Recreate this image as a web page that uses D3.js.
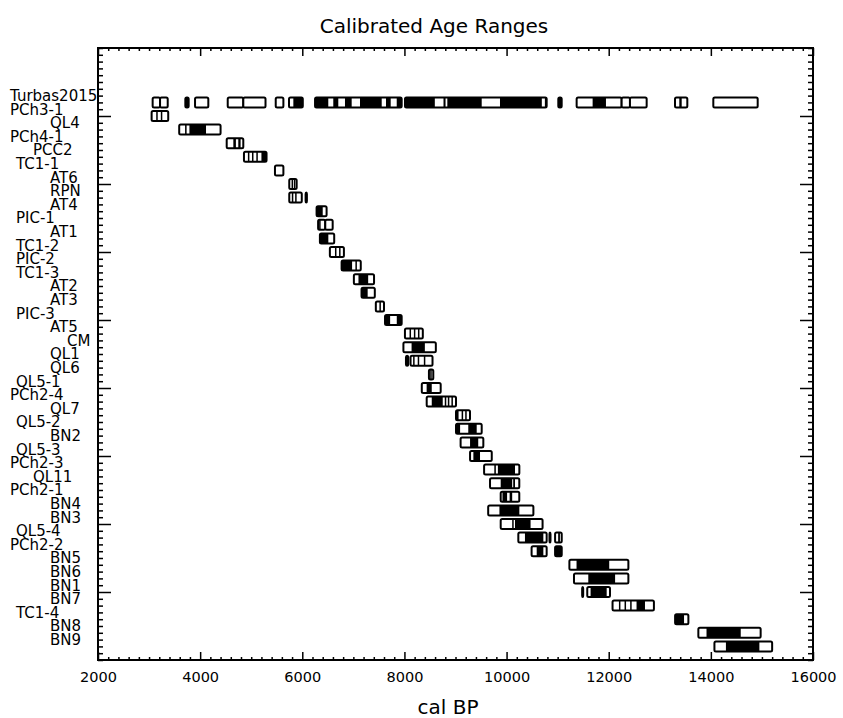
<!DOCTYPE html>
<html>
<head>
<meta charset="utf-8">
<script src="https://cdn.jsdelivr.net/npm/d3@7/dist/d3.min.js"></script>
<style>
  html, body { margin: 0; padding: 0; background: #fff; }
  text { font-family: "DejaVu Sans", sans-serif; fill: #000; }
</style>
</head>
<body>
<div id="chart"></div>
<script>
// sample names, top to bottom
const samples = ["Turbas2015", "PCh3-1", "QL4", "PCh4-1", "PCC2", "TC1-1", "AT6", "RPN", "AT4",
  "PIC-1", "AT1", "TC1-2", "PIC-2", "TC1-3", "AT2", "AT3", "PIC-3", "AT5", "CM", "QL1", "QL6",
  "QL5-1", "PCh2-4", "QL7", "QL5-2", "BN2", "QL5-3", "PCh2-3", "QL11", "PCh2-1", "BN4", "BN3",
  "QL5-4", "PCh2-2", "BN5", "BN6", "BN1", "BN7", "TC1-4", "BN8", "BN9"];

// 95.4% ranges (open boxes), cal BP
const range95 = [
  [[3070,3215],[3215,3365],[3710,3775],[3900,4160],[4540,4845],[4845,5280],[5480,5630],[5740,6010],
   [6250,7946],[8011,10785],[11013,11079],[11372,12253],[12253,12416],[12416,12743],[13298,13539],[14048,14917]],
  [[3050,3375]],
  [[3590,4400]],
  [[4520,4845]],
  [[4858,5300]],
  [[5465,5630]],
  [[5745,5890]],
  [[5745,5990],[6065,6090]],
  [[6280,6476]],
  [[6310,6450],[6450,6595]],
  [[6345,6625]],
  [[6540,6815]],
  [[6770,7145]],
  [[7010,7405]],
  [[7160,7420]],
  [[7440,7600]],
  [[7620,7946]],
  [[8010,8360]],
  [[7980,8615]],
  [[8030,8075],[8120,8550]],
  [[8480,8565]],
  [[8340,8710]],
  [[8436,9010]],
  [[9010,9284]],
  [[9010,9513]],
  [[9100,9545]],
  [[9285,9710]],
  [[9560,10250]],
  [[9676,10249]],
  [[9885,10249]],
  [[9640,10525]],
  [[9885,10705]],
  [[10230,10785],[10840,10860],[10950,11080]],
  [[10490,10785],[10950,11080]],
  [[11230,12385]],
  [[11320,12385]],
  [[11480,11500],[11580,12025]],
  [[12075,12885]],
  [[13300,13560]],
  [[13755,14975]],
  [[14070,15200]]
];

// 68.2% ranges (filled), cal BP
const range68 = [
  [[3710,3775],[5825,6010],[6250,6509],[6607,6705],[6836,6967],[7130,7555],[7639,7731],[7849,7946],
   [8011,8595],[8765,8805],[8840,9513],[9871,10690],[10750,10785],[11013,11079],[11685,11946],[13382,13429]],
  [[3140,3160],[3230,3250]],
  [[3705,3735],[3790,4115]],
  [[4650,4700],[4747,4792]],
  [[4935,4960],[5015,5040],[5100,5125],[5200,5290]],
  [],
  [[5790,5810],[5835,5855]],
  [[5795,5815],[5860,5880],[6065,6090]],
  [[6280,6400]],
  [[6330,6350]],
  [[6345,6510]],
  [[6640,6660],[6720,6740]],
  [[6770,6975],[7040,7060]],
  [[7100,7290]],
  [[7160,7280]],
  [[7510,7525]],
  [[7620,7720],[7850,7946]],
  [[8100,8120],[8185,8205],[8265,8285]],
  [[8140,8400]],
  [[8030,8075],[8170,8190],[8260,8280],[8380,8395]],
  [[8505,8530]],
  [[8435,8535]],
  [[8535,8750],[8790,8810],[8850,8870],[8920,8940]],
  [[9010,9060],[9120,9140],[9190,9210]],
  [[9010,9090],[9250,9415]],
  [[9285,9445]],
  [[9350,9480]],
  [[9760,9790],[9830,10165]],
  [[9885,10110],[10130,10165]],
  [[9920,10010],[10060,10110]],
  [[9860,10250]],
  [[10110,10125],[10165,10470]],
  [[10360,10720],[10840,10860],[11010,11045]],
  [[10590,10720],[10950,11080]],
  [[11370,12010]],
  [[11600,12125]],
  [[11480,11500],[11645,11960]],
  [[12200,12215],[12310,12325],[12420,12440],[12545,12710]],
  [[13300,13475]],
  [[13915,14585]],
  [[14295,14950]]
];

const xMajor = d3.range(2000, 16001, 2000);
const xMinor = d3.range(2000, 16001, 200).filter(v => v % 2000 !== 0);
const yMajor = d3.range(1, 41, 5);
const yMinor = d3.range(-4, 41.01, 0.5).filter(v => !yMajor.includes(v));

const width = 843, height = 718;
const plot = { left: 98, right: 813, top: 48, bottom: 660 };

const svg = d3.select("#chart").append("svg")
  .attr("width", width)
  .attr("height", height);

const x = d3.scaleLinear().domain([2000, 16000]).range([plot.left, plot.right]);
const y = d3.scaleLinear().domain([-4, 41]).range([plot.top, plot.bottom]);

// axes, ticks pointing inward
function tickAxis(axis, pos, values, size, labels) {
  const g = svg.append("g")
    .attr("transform", pos)
    .call(axis.tickValues(values).tickSizeInner(size).tickSizeOuter(0)
      .tickPadding(12).tickFormat(labels ? d3.format("d") : ""));
  g.select(".domain").remove();
  g.selectAll(".tick line").attr("stroke", "#000").attr("stroke-width", 1.5);
  g.selectAll("text").style("font-size", "14.5px").style("font-family", "DejaVu Sans");
  return g;
}

tickAxis(d3.axisBottom(x), `translate(0,${plot.bottom})`, xMajor, -8, true);
tickAxis(d3.axisBottom(x), `translate(0,${plot.bottom})`, xMinor, -3, false);
tickAxis(d3.axisTop(x), `translate(0,${plot.top})`, xMajor, -8, false);
tickAxis(d3.axisTop(x), `translate(0,${plot.top})`, xMinor, -3, false);
tickAxis(d3.axisLeft(y), `translate(${plot.left},0)`, yMajor, -13, false);
tickAxis(d3.axisLeft(y), `translate(${plot.left},0)`, yMinor, -5, false);
tickAxis(d3.axisRight(y), `translate(${plot.right},0)`, yMajor, -13, false);
tickAxis(d3.axisRight(y), `translate(${plot.right},0)`, yMinor, -5, false);

svg.append("rect")
  .attr("x", plot.left).attr("y", plot.top)
  .attr("width", plot.right - plot.left).attr("height", plot.bottom - plot.top)
  .attr("fill", "none").attr("stroke", "#000").attr("stroke-width", 2);

// rows
const boxH = 10;
samples.forEach((name, i) => {
  const cy = y(i);
  const row = svg.append("g").attr("class", "row");

  row.selectAll("rect.r95")
    .data(range95[i])
    .join("rect")
    .attr("class", "r95")
    .attr("x", d => x(d[0]))
    .attr("width", d => Math.max(1, x(d[1]) - x(d[0])))
    .attr("y", cy - boxH / 2)
    .attr("height", boxH)
    .attr("rx", 1.5)
    .attr("fill", "#fff")
    .attr("stroke", "#000")
    .attr("stroke-width", 2);

  row.selectAll("rect.r68")
    .data(range68[i])
    .join("rect")
    .attr("class", "r68")
    .attr("x", d => x(d[0]))
    .attr("width", d => Math.max(1.5, x(d[1]) - x(d[0])))
    .attr("y", cy - boxH / 2)
    .attr("height", boxH)
    .attr("fill", "#000");

  // labels are right aligned on a fixed character grid, clamped at the margin
  row.append("text")
    .attr("x", Math.max(10, 101 - 17 * name.length))
    .attr("y", cy - 1.5)
    .style("font-size", "15px")
    .text(name);
});

svg.append("text")
  .attr("x", 434).attr("y", 33)
  .attr("text-anchor", "middle")
  .style("font-size", "20px")
  .text("Calibrated Age Ranges");

svg.append("text")
  .attr("x", 448).attr("y", 714)
  .attr("text-anchor", "middle")
  .style("font-size", "20px")
  .text("cal BP");
</script>
</body>
</html>
